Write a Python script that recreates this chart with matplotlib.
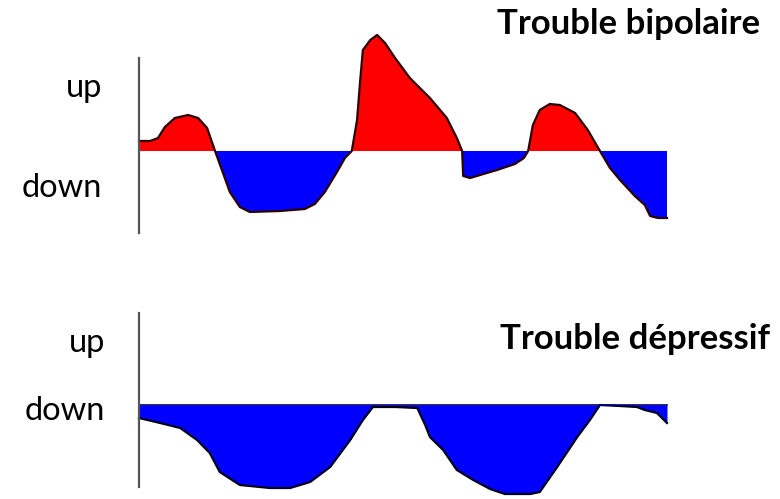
import numpy as np
import matplotlib.pyplot as plt

# time axis runs 0..100, mood is an offset from the baseline (up > 0, down < 0)
bip_t = [0, 2.1, 3.6, 4.9, 6.8, 9.3, 11.2, 12.9, 14.4, 15.7, 17.2, 19.1, 21.0, 26.7,
         31.4, 33.3, 35.2, 37.5, 39.0, 40.3, 41.3, 41.9, 42.4, 43.8, 45.1, 46.6, 48.5,
         51.3, 55.1, 58.3, 60.2, 61.2, 61.4, 62.7, 64.6, 67.8, 71.2, 72.9, 73.7, 74.6,
         75.9, 77.8, 79.7, 82.6, 85.0, 87.3, 89.2, 91.1, 93.9, 95.8, 96.8, 98.3, 100]
bip_mood = [10, 10, 13, 24, 33, 36, 33, 23, 0, -19, -41, -56, -61, -60,
            -58, -53, -41, -21, -7, 0, 31, 71, 101, 111, 116, 108, 93,
            73, 53, 33, 13, 0, -25, -27, -24, -19, -13, -7, 0, 26,
            41, 47, 46, 38, 21, 0, -17, -29, -45, -54, -65, -67, -67]

dep_t = [0, 4.0, 7.8, 11.0, 13.4, 15.3, 19.1, 24.8, 28.6, 32.4, 36.2, 40.0, 42.4,
         44.3, 48.5, 52.7, 54.2, 55.1, 57.6, 60.2, 63.3, 66.5, 69.3, 74.1, 75.9,
         79.2, 83.0, 85.4, 87.3, 91.1, 94.3, 95.8, 98.1, 100]
dep_mood = [-13, -18, -23, -35, -48, -67, -80, -83, -83, -77, -62, -35, -15,
            -2, -2, -3, -20, -32, -45, -65, -75, -84, -89, -89, -87,
            -62, -32, -15, 0, -1, -2, -5, -8, -18]

plt.rcParams['font.family'] = ['Lato', 'DejaVu Sans']

W, H = 780, 499
fig = plt.figure(figsize=(W / 100, H / 100), dpi=100)


def panel(top_px, bottom_px, ylim):
    ax = fig.add_axes([139 / W, 1 - bottom_px / H, 528 / W, (bottom_px - top_px) / H])
    ax.set_xlim(0, 100)
    ax.set_ylim(*ylim)
    for s in ['top', 'right', 'bottom']:
        ax.spines[s].set_visible(False)
    ax.spines['left'].set_color('#555555')
    ax.spines['left'].set_linewidth(1.6)
    ax.set_xticks([])
    ax.set_yticks([])
    ax.patch.set_alpha(0)
    return ax


# bipolar panel
ax1 = panel(58, 233, (-82, 93))
t = np.array(bip_t)
m = np.array(bip_mood)
ax1.fill_between(t, m, 0, where=m >= 0, color='#ff0000', lw=0, clip_on=False)
ax1.fill_between(t, m, 0, where=m <= 0, color='#0000ff', lw=0, clip_on=False)
ax1.plot(t, m, color='#2a0000', lw=1.6, clip_on=False)

# depressive panel
ax2 = panel(313, 487, (-82, 92))
t = np.array(dep_t)
m = np.array(dep_mood)
ax2.fill_between(t, m, 0, color='#0000ff', lw=0, clip_on=False)
ax2.plot(t, m, color='#00001a', lw=1.6, clip_on=False)
ax2.plot([0, 100], [0, 0], color='#000080', lw=1.2, clip_on=False)

fs = 23.5
fig.text(102 / W, 1 - 97 / H, 'up', ha='right', va='baseline', fontsize=fs)
fig.text(102 / W, 1 - 197 / H, 'down', ha='right', va='baseline', fontsize=fs)
fig.text(105 / W, 1 - 352 / H, 'up', ha='right', va='baseline', fontsize=fs)
fig.text(105 / W, 1 - 420 / H, 'down', ha='right', va='baseline', fontsize=fs)

fig.text(497 / W, 1 - 34 / H, 'Trouble bipolaire', ha='left', va='baseline',
         fontsize=25, fontweight='bold')
fig.text(500 / W, 1 - 349 / H, 'Trouble dépressif', ha='left', va='baseline',
         fontsize=25, fontweight='bold')

fig.savefig('out.png', dpi=100)
